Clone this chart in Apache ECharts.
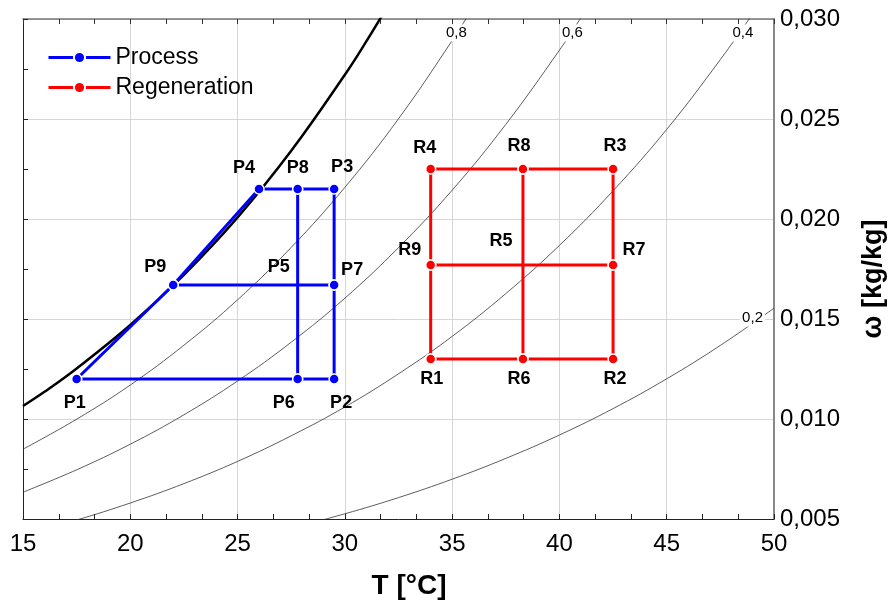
<!DOCTYPE html>
<html>
<head>
<meta charset="utf-8">
<script src="https://cdn.jsdelivr.net/npm/echarts@6/dist/echarts.min.js"></script>
<style>
  html, body { margin: 0; padding: 0; background: #fff; }
  #chart { width: 889px; height: 603px; }
</style>
</head>
<body>
<div id="chart"></div>
<script>
// Psychrometric chart: humidity ratio vs dry-bulb temperature
const FONT = 'Liberation Sans, Arial, sans-serif';

// Saturation curve (relative humidity 1.0)
const satT = [15, 16, 17.5, 20, 22.5, 25, 27.5, 30, 31, 32];
const satW = [0.01065, 0.01136, 0.01253, 0.01470, 0.01721, 0.02008, 0.02341, 0.02721, 0.02888, 0.03065];

// Constant relative humidity curves
const rh08T = [15, 17.5, 20, 22.5, 25, 27.5, 30, 32.5, 35, 36];
const rh08W = [0.00849, 0.00999, 0.01170, 0.01369, 0.01596, 0.01858, 0.02158, 0.02501, 0.02892, 0.03064];
const rh06T = [15, 17.5, 20, 22.5, 25, 27.5, 30, 32.5, 35, 37.5, 40, 41];
const rh06W = [0.00634, 0.00746, 0.00874, 0.01021, 0.01190, 0.01384, 0.01604, 0.01857, 0.02144, 0.02473, 0.02844, 0.03006];
const rh04T = [15, 17.5, 20, 22.5, 25, 27.5, 30, 32.5, 35, 37.5, 40, 42.5, 45, 47.5, 49];
const rh04W = [0.00422, 0.00495, 0.00580, 0.00677, 0.00788, 0.00916, 0.01060, 0.01226, 0.01413, 0.01627, 0.01868, 0.02141, 0.02448, 0.02797, 0.03025];
const rh02T = [27.5, 30, 32.5, 35, 37.5, 40, 42.5, 45, 47.5, 50];
const rh02W = [0.00454, 0.00526, 0.00607, 0.00699, 0.00803, 0.00920, 0.01052, 0.01201, 0.01368, 0.01554];

// Curve tags: text and where it sits on the curve
const rhTagText = ['0,8', '0,6', '0,4', '0,2'];
const rhTagT = [35.2, 40.6, 48.55, 49.0];
const rhTagW = [0.0293, 0.0293, 0.0293, 0.01505];

// Process states
const procNames = ['P1', 'P2', 'P3', 'P4', 'P5', 'P6', 'P7', 'P8', 'P9'];
const procT = [17.5, 29.5, 29.5, 26.0, 27.8, 27.8, 29.5, 27.8, 22.0];
const procW = [0.0120, 0.0120, 0.0215, 0.0215, 0.0167, 0.0120, 0.0167, 0.0215, 0.0167];
// Path through the states ('-' breaks the line)
const procPath = ['P1', 'P6', 'P2', 'P7', 'P3', 'P8', 'P4', 'P9', 'P1', '-', 'P9', 'P7', '-', 'P8', 'P6'];

// Regeneration states
const regNames = ['R1', 'R2', 'R3', 'R4', 'R5', 'R6', 'R7', 'R8', 'R9'];
const regT = [34.0, 42.5, 42.5, 34.0, 38.3, 38.3, 42.5, 38.3, 34.0];
const regW = [0.0130, 0.0130, 0.0225, 0.0225, 0.0177, 0.0130, 0.0177, 0.0225, 0.0177];
const regPath = ['R1', 'R6', 'R2', 'R7', 'R3', 'R8', 'R4', 'R9', 'R1', '-', 'R9', 'R7', '-', 'R8', 'R6'];

// Axis ticks
const xTicks = [15, 20, 25, 30, 35, 40, 45, 50];
const yTicks = [0.005, 0.010, 0.015, 0.020, 0.025, 0.030];

// Label placement (pixel offsets from each state)
const labelOffset = {
  P1: [-2, 24], P2: [7, 24], P3: [8, -22], P4: [-15, -21], P5: [-19, -18],
  P6: [-14, 24], P7: [18, -15], P8: [0, -21], P9: [-18, -18],
  R1: [1, 20], R2: [2, 20], R3: [2, -23], R4: [-6, -21], R5: [-22, -24],
  R6: [-4, 20], R7: [21, -15], R8: [-4, -23], R9: [-21, -15]
};

const zip = (a, b) => a.map((v, i) => [v, b[i]]);
function pathData(path, names, ts, ws) {
  return path.map(n => {
    if (n === '-') return '-';
    const i = names.indexOf(n);
    return [ts[i], ws[i]];
  });
}
function labelData(names, ts, ws) {
  return names.map((n, i) => ({
    value: [ts[i], ws[i]],
    name: n,
    label: { offset: labelOffset[n] }
  }));
}

const curveStyle = { color: '#333', width: 0.8 };
function rhCurve(ts, ws) {
  return {
    type: 'line', data: zip(ts, ws), smooth: 0.4, showSymbol: false, symbol: 'none',
    lineStyle: curveStyle, silent: true, z: 2, clip: true
  };
}

function stateLine(name, color, data) {
  return {
    name: name, type: 'line', data: data, z: 5,
    symbol: 'circle', symbolSize: 10, showSymbol: true,
    lineStyle: { color: color, width: 3 },
    itemStyle: { color: color, borderColor: '#fff', borderWidth: 1.5 },
    connectNulls: false, silent: true
  };
}

function stateLabels(names, ts, ws) {
  return {
    type: 'scatter', data: labelData(names, ts, ws), symbolSize: 0, z: 6, silent: true,
    itemStyle: { color: '#000', opacity: 1 },
    label: {
      show: true, position: 'inside', formatter: p => p.name, opacity: 1,
      fontFamily: FONT, fontWeight: 'bold', fontSize: 18, color: '#000',
      textBorderWidth: 0
    }
  };
}

const chart = echarts.init(document.getElementById('chart'), null, { renderer: 'canvas' });

chart.setOption({
  backgroundColor: '#fff',
  animation: false,
  grid: { left: 23, right: 115, top: 19, bottom: 84, containLabel: false, outerBoundsMode: 'none' },
  legend: {
    data: ['Process', 'Regeneration'],
    orient: 'vertical', left: 47, top: 46, padding: 0,
    itemWidth: 62, itemHeight: 14, itemGap: 7,
    lineStyle: { width: 3 },
    textStyle: { fontFamily: FONT, fontSize: 23, color: '#000', lineHeight: 23 },
    selectedMode: false
  },
  xAxis: [
    {
      type: 'value', position: 'bottom', min: xTicks[0], max: xTicks[xTicks.length - 1], interval: 5,
      axisLine: { show: true, lineStyle: { color: '#222', width: 1 } },
      axisTick: { show: true, inside: true, length: 5, lineStyle: { color: '#222' } },
      minorTick: { show: true, splitNumber: 3, length: 5, lineStyle: { color: '#222' } },
      splitLine: { show: true, lineStyle: { color: '#d6d6d6', width: 1 } },
      axisLabel: { fontFamily: FONT, fontSize: 24, color: '#000', margin: 13 },
      name: 'T [°C]', nameLocation: 'middle', nameGap: 53,
      nameTextStyle: { fontFamily: FONT, fontSize: 28, fontWeight: 'bold', color: '#000', padding: [0, 0, 0, 21] }
    },
    {
      type: 'value', position: 'top', min: xTicks[0], max: xTicks[xTicks.length - 1], interval: 5,
      axisLine: { show: true, lineStyle: { color: '#777', width: 1.5 } },
      axisTick: { show: true, inside: true, length: 5, lineStyle: { color: '#333' } },
      minorTick: { show: true, splitNumber: 3, length: 5, lineStyle: { color: '#333' } },
      splitLine: { show: false },
      axisLabel: { show: false }
    }
  ],
  yAxis: [
    {
      type: 'value', position: 'right', min: yTicks[0], max: yTicks[yTicks.length - 1], interval: 0.005,
      axisLine: { show: true, lineStyle: { color: '#888', width: 2 } },
      axisTick: { show: false },
      splitLine: { show: true, lineStyle: { color: '#d6d6d6', width: 1 } },
      axisLabel: {
        fontFamily: FONT, fontSize: 24, color: '#000', margin: 6,
        formatter: v => v.toFixed(3).replace('.', ',')
      },
      name: 'ω [kg/kg]', nameLocation: 'middle', nameRotate: 90, nameGap: 86,
      nameTextStyle: { fontFamily: FONT, fontSize: 27, fontWeight: 'bold', color: '#000', padding: [0, 20, 0, 0] }
    },
    {
      type: 'value', position: 'left', min: yTicks[0], max: yTicks[yTicks.length - 1], interval: 0.005,
      axisLine: { show: true, lineStyle: { color: '#222', width: 1 } },
      axisTick: { show: true, inside: true, length: 5, lineStyle: { color: '#222' } },
      minorTick: { show: true, splitNumber: 2, length: 5, lineStyle: { color: '#222' } },
      splitLine: { show: false },
      axisLabel: { show: false }
    }
  ],
  series: [
    {
      type: 'line', data: zip(satT, satW), smooth: 0.4, showSymbol: false, symbol: 'none',
      lineStyle: { color: '#000', width: 2.5 }, silent: true, z: 3, clip: true
    },
    rhCurve(rh08T, rh08W),
    rhCurve(rh06T, rh06W),
    rhCurve(rh04T, rh04W),
    rhCurve(rh02T, rh02W),
    {
      type: 'scatter', symbolSize: 0, silent: true, z: 4,
      itemStyle: { color: '#000', opacity: 1 },
      data: rhTagText.map((t, i) => ({ value: [rhTagT[i], rhTagW[i]], name: t })),
      label: {
        show: true, position: 'inside', formatter: p => p.name, opacity: 1,
        fontFamily: FONT, fontSize: 15, color: '#000', textBorderWidth: 0,
        backgroundColor: '#fff', padding: [1, 2]
      }
    },
    stateLine('Process', '#0000ff', pathData(procPath, procNames, procT, procW)),
    stateLine('Regeneration', '#ff0000', pathData(regPath, regNames, regT, regW)),
    stateLabels(procNames, procT, procW),
    stateLabels(regNames, regT, regW)
  ]
});
</script>
</body>
</html>
